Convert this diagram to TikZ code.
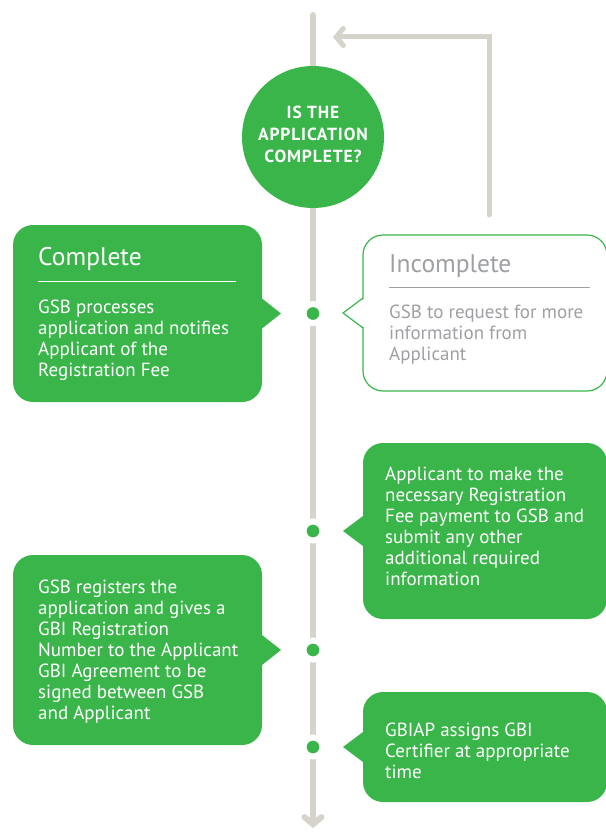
\documentclass[tikz,border=0pt]{standalone}
\usepackage{fontspec}
\setmainfont{PT Sans}
\usetikzlibrary{arrows.meta}
\definecolor{gsbgreen}{HTML}{3AB54A}
\definecolor{spinegray}{HTML}{D6D3CB}
\definecolor{softgray}{HTML}{9EA0A3}

\begin{document}
\begin{tikzpicture}[x=1pt,y=-1pt,
	bubble/.style={rectangle,rounded corners=20pt,fill=gsbgreen,anchor=north west,inner sep=0pt,outer sep=0pt},
	hollow/.style={bubble,fill=white,draw=gsbgreen,line width=1.2pt},
	stepdot/.style={circle,fill=gsbgreen,draw=white,line width=6pt,minimum size=19pt,inner sep=0pt},
	body/.style={anchor=north west,align=left,inner sep=0pt,text=white,font=\fontsize{19}{21}\selectfont},
	heading/.style={anchor=base west,inner sep=0pt,text=white,font=\fontsize{25.5}{28}\selectfont},
	flow/.style={spinegray,line width=5pt,line cap=round,-{Straight Barb[length=7pt,width=17pt,line cap=round]}}
	]
	\useasboundingbox (0,0) rectangle (605,832);
	\coordinate (top) at (313,15);
	\coordinate (bottom) at (313,828);
	\draw[flow,line width=6pt] (top) -- (bottom);
	% question
	\node[circle,fill=gsbgreen,minimum size=142pt,inner sep=0pt] (quest) at (313,137) {};
	\node[align=center,text=white,font=\bfseries\addfontfeature{LetterSpace=5}\fontsize{17.5}{22}\selectfont] (questtext) at (313,134) {IS THE\\APPLICATION\\COMPLETE?};
	\coordinate (back) at (489,215);
	\coordinate (reentry) at (333,37);
	\draw[flow] (back) |- (reentry);
	% bubbles
	\node[bubble,minimum width=249pt,minimum height=177pt] (complete) at (13,225) {};
	\node[hollow,minimum width=244pt,minimum height=156pt] (incomplete) at (363,235) {};
	\node[bubble,minimum width=244pt,minimum height=176pt] (pay) at (363,443) {};
	\node[bubble,minimum width=249pt,minimum height=190pt] (register) at (13,555) {};
	\node[bubble,minimum width=244pt,minimum height=110pt] (assign) at (363,692) {};
	\fill[gsbgreen] ([yshift=15pt]complete.east) -- ([xshift=19pt]complete.east) -- ([yshift=-15pt]complete.east) -- cycle;
	\fill[gsbgreen] ([yshift=15pt]register.east) -- ([xshift=19pt]register.east) -- ([yshift=-15pt]register.east) -- cycle;
	\fill[gsbgreen] ([yshift=15pt]pay.west) -- ([xshift=-20pt]pay.west) -- ([yshift=-15pt]pay.west) -- cycle;
	\fill[gsbgreen] ([yshift=15pt]assign.west) -- ([xshift=-20pt]assign.west) -- ([yshift=-15pt]assign.west) -- cycle;
	\fill[white] ([xshift=2pt,yshift=15pt]incomplete.west) -- ([xshift=-20pt]incomplete.west) -- ([xshift=2pt,yshift=-15pt]incomplete.west) -- cycle;
	\draw[gsbgreen,line width=1.2pt] ([yshift=15pt]incomplete.west) -- ([xshift=-20pt]incomplete.west) -- ([yshift=-15pt]incomplete.west);
	% dots on the line
	\node[stepdot] (d1) at (top |- complete.east) {};
	\node[stepdot] (d2) at (top |- pay.west) {};
	\node[stepdot] (d3) at (top |- register.east) {};
	\node[stepdot] (d4) at (top |- assign.west) {};
	% texts
	\node[heading] (completehead) at (38,265) {Complete};
	\draw[white,line width=0.8pt] (38,281) -- (236,281);
	\node[body] (completetext) at (38,300) {GSB processes\\application and notifies\\Applicant of the\\Registration Fee};
	\node[heading,text=softgray] (incompletehead) at (389,272) {Incomplete};
	\draw[softgray,line width=0.8pt] (389,287) -- (590,287);
	\node[body,text=softgray] (incompletetext) at (389,305) {GSB to request for more\\information from\\Applicant};
	\node[body] (paytext) at (385,467) {Applicant to make the\\necessary Registration\\Fee payment to GSB and\\submit any other\\additional required\\information};
	\node[body] (registertext) at (38,580) {GSB registers the\\application and gives a\\GBI Registration\\Number to the Applicant\\GBI Agreement to be\\signed between GSB\\and Applicant};
	\node[body] (assigntext) at (385,723) {GBIAP assigns GBI\\Certifier at appropriate\\time};
\end{tikzpicture}
\end{document}
